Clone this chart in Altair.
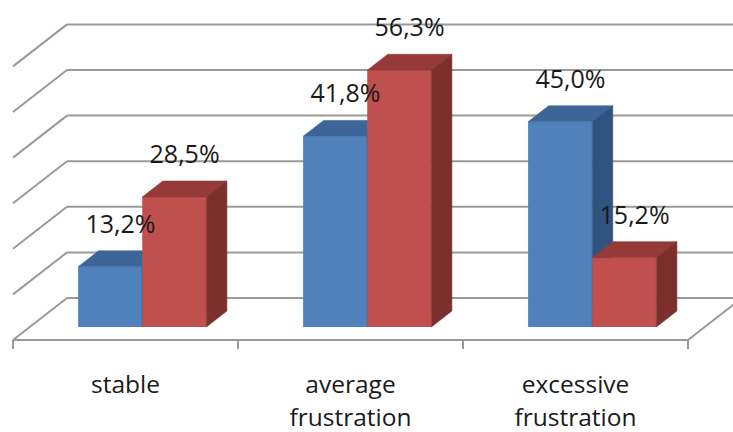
import altair as alt
import pandas as pd

# ---- data ----
categories = ["stable", "average\nfrustration", "excessive\nfrustration"]
series_blue = [13.2, 41.8, 45.0]
series_red = [28.5, 56.3, 15.2]
grid_values = [0, 10, 20, 30, 40, 50, 60]

# ---- 3D projection settings (style) ----
DX = 0.24      # x-units shift per unit of depth
DY = 9.21      # value-units shift per unit of depth
D0, D1 = 0.31, 0.69   # bar depth (front, back)
OFFS = {"blue": (0.215, 0.5), "red": (0.5, 0.785)}
COLORS = {
    "blue": ("#4F81BD", "#3D6597", "#30547F"),
    "red": ("#C0504D", "#953A38", "#7B302E"),
}
FONT = "Open Sans"
GRID = "#9A9A9A"

n = len(categories)
X_DOM = [-13 / 225, 720 / 225]
Y_DOM = [340 / 4.56 - 432 / 4.56, 340 / 4.56]
xs = alt.Scale(domain=X_DOM, nice=False, zero=False)
ys = alt.Scale(domain=Y_DOM, nice=False, zero=False)


def fmt(v):
    return f"{v:.1f}".replace(".", ",") + "%"


# walls & floor lines
lines = []
for t in grid_values:
    lines.append(dict(x=DX, y=t + DY, x2=n + DX, y2=t + DY))   # back wall
    lines.append(dict(x=0, y=t, x2=DX, y2=t + DY))             # left wall
lines.append(dict(x=0, y=0, x2=n, y2=0))                        # floor front
lines.append(dict(x=n, y=0, x2=n + DX, y2=DY))                  # floor right
lines_df = pd.DataFrame(lines)

ticks_df = pd.DataFrame({"x": list(range(n + 1)), "y": [0] * (n + 1)})

base_lines = alt.Chart(lines_df).mark_rule(color=GRID, strokeWidth=2).encode(
    x=alt.X("x:Q", scale=xs, axis=None),
    y=alt.Y("y:Q", scale=ys, axis=None),
    x2="x2:Q", y2="y2:Q",
)
tick_marks = alt.Chart(ticks_df).mark_rule(color=GRID, strokeWidth=2, y2Offset=9).encode(
    x=alt.X("x:Q", scale=xs, axis=None),
    y=alt.Y("y:Q", scale=ys, axis=None),
    y2="y:Q",
)

layers = [base_lines, tick_marks]

for name, vals in (("blue", series_blue), ("red", series_red)):
    a, b = OFFS[name]
    cf, ct, cs = COLORS[name]
    front, top, side = [], [], []
    for i, v in enumerate(vals):
        u0, u1 = i + a, i + b
        front.append(dict(x=u0 + DX * D0, x2=u1 + DX * D0, y=DY * D0, y2=v + DY * D0))
        for d in (D0, D1):
            top.append(dict(bar=i, y=v + DY * d, x=u0 + DX * d, x2=u1 + DX * d))
            side.append(dict(bar=i, x=u1 + DX * d, y=DY * d, y2=v + DY * d))
    layers.append(
        alt.Chart(pd.DataFrame(front)).mark_rect(color=cf).encode(
            x=alt.X("x:Q", scale=xs, axis=None), x2="x2:Q",
            y=alt.Y("y:Q", scale=ys, axis=None), y2="y2:Q",
        )
    )
    layers.append(
        alt.Chart(pd.DataFrame(top)).mark_area(orient="horizontal", color=ct, stroke=ct, strokeWidth=0.6).encode(
            y=alt.Y("y:Q", scale=ys, axis=None),
            x=alt.X("x:Q", scale=xs, axis=None), x2="x2:Q",
            detail="bar:N",
        )
    )
    layers.append(
        alt.Chart(pd.DataFrame(side)).mark_area(orient="vertical", color=cs, stroke=cs, strokeWidth=0.6).encode(
            x=alt.X("x:Q", scale=xs, axis=None),
            y=alt.Y("y:Q", scale=ys, axis=None), y2="y2:Q",
            detail="bar:N",
        )
    )

# value labels
lab = []
for name, vals in (("blue", series_blue), ("red", series_red)):
    a, b = OFFS[name]
    for i, v in enumerate(vals):
        lab.append(dict(x=i + (a + b) / 2 + DX * 0.5, y=v + DY * 0.5, text=fmt(v)))
layers.append(
    alt.Chart(pd.DataFrame(lab)).mark_text(
        font=FONT, fontSize=25, color="#1A1A1A", baseline="middle", dy=-34
    ).encode(
        x=alt.X("x:Q", scale=xs, axis=None),
        y=alt.Y("y:Q", scale=ys, axis=None),
        text="text:N",
    )
)

# category labels
cat_df = pd.DataFrame({"x": [i + 0.5 for i in range(n)], "y": [0] * n, "text": categories})
layers.append(
    alt.Chart(cat_df).mark_text(
        font=FONT, fontSize=24.5, color="#1A1A1A", baseline="alphabetic",
        dy=53, lineHeight=33, lineBreak="\n"
    ).encode(
        x=alt.X("x:Q", scale=xs, axis=None),
        y=alt.Y("y:Q", scale=ys, axis=None),
        text="text:N",
    )
)

chart = alt.layer(*layers).properties(
    width=733, height=432, padding=0, autosize=alt.AutoSizeParams(type="none"),
    background="white",
).configure_view(stroke=None)

chart.save("out.html", embed_options={"renderer": "svg", "actions": False})
